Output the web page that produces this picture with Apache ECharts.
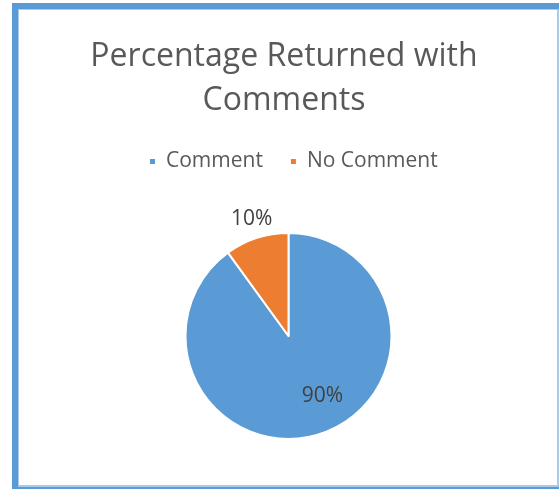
<!DOCTYPE html>
<html>
<head>
<meta charset="utf-8">
<script src="https://cdn.jsdelivr.net/npm/echarts@6/dist/echarts.min.js"></script>
<style>
  html, body { margin: 0; padding: 0; background: #fff; }
  #chart { width: 559px; height: 489px; }
</style>
</head>
<body>
<div id="chart"></div>
<script>
// data
let categories = ['Comment', 'No Comment'];
let shares = [90, 10];
let colors = ['#5B9BD5', '#ED7D31'];
// label nudges so they sit where excel put them
let labelOffsets = [[17, 8], [-20, -65]];

let myChart = echarts.init(document.getElementById('chart'));

let pieData = [];
for (let i = 0; i < categories.length; i++) {
    pieData.push({
        name: categories[i],
        value: shares[i],
        itemStyle: { color: colors[i] },
        label: { offset: labelOffsets[i] }
    });
}

let blue = '#5B9BD5';
let light = '#A9CBEB';

let option = {
    backgroundColor: '#fff',
    animation: false,
    title: {
        text: 'Percentage Returned with\nComments',
        left: 279,
        textAlign: 'center',
        top: 30,
        textStyle: {
            fontFamily: 'Open Sans',
            fontSize: 32,
            fontWeight: 'normal',
            color: '#595959',
            lineHeight: 44
        }
    },
    legend: {
        data: categories,
        top: 146,
        left: 143,
        itemWidth: 7,
        itemHeight: 7,
        itemGap: 26,
        icon: 'rect',
        textStyle: {
            fontFamily: 'Open Sans',
            fontSize: 21,
            color: '#595959',
            padding: [0, 0, 0, 5]
        }
    },
    graphic: [
        // frame (dark outer band + thin light inner line)
        { type: 'rect', shape: { x: 12, y: 3, width: 6, height: 486 }, style: { fill: blue }, silent: true },
        { type: 'rect', shape: { x: 12, y: 3, width: 547, height: 6 }, style: { fill: blue }, silent: true },
        { type: 'rect', shape: { x: 12, y: 487, width: 547, height: 2 }, style: { fill: blue }, silent: true },
        { type: 'rect', shape: { x: 18, y: 9, width: 1, height: 478 }, style: { fill: light }, silent: true },
        { type: 'rect', shape: { x: 18, y: 9, width: 541, height: 1 }, style: { fill: light }, silent: true },
        { type: 'rect', shape: { x: 557, y: 9, width: 2, height: 478 }, style: { fill: light }, silent: true },
        { type: 'rect', shape: { x: 18, y: 485, width: 541, height: 2 }, style: { fill: light }, silent: true }
    ],
    series: [{
        type: 'pie',
        center: [288.5, 336],
        radius: [0, 103],
        startAngle: 90,
        clockwise: true,
        avoidLabelOverlap: false,
        itemStyle: {
            borderColor: '#fff',
            borderWidth: 2
        },
        label: {
            show: true,
            position: 'inside',
            formatter: '{c}%',
            fontFamily: 'Open Sans',
            fontSize: 21,
            color: '#404040'
        },
        labelLine: { show: false },
        emphasis: { disabled: true },
        data: pieData
    }]
};
myChart.setOption(option);
</script>
</body>
</html>
